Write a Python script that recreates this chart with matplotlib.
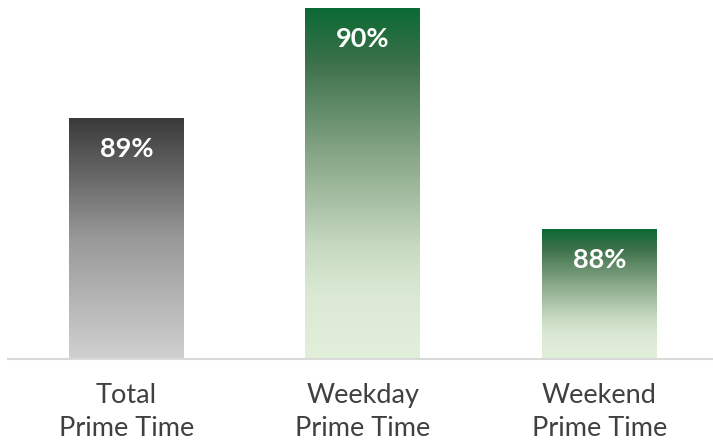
import numpy as np
import matplotlib
matplotlib.use('Agg')
import matplotlib.pyplot as plt
from matplotlib.colors import LinearSegmentedColormap

# chart data
categories = ['Total\nPrime Time', 'Weekday\nPrime Time', 'Weekend\nPrime Time']
values = [89, 90, 88]

# gradient stops (bottom -> top)
gray_stops = [(0.0, '#d1d0d1'), (0.5, '#9a9999'), (1.0, '#3b3a3a')]
green_stops = [(0.0, '#e2efdb'), (0.17, '#dcead5'), (0.31, '#c9dbc3'),
               (0.57, '#8aa88a'), (0.85, '#3a7048'), (1.0, '#0a6a34')]
bar_stops = [gray_stops, green_stops, green_stops]

plt.rcParams['font.family'] = ['Lato', 'DejaVu Sans']

fig = plt.figure(figsize=(7.13, 4.41), dpi=100)
ax = fig.add_axes([8 / 713, 82 / 441, 705 / 713, 359 / 441])

x = np.arange(len(categories))
bars = ax.bar(x, values, width=0.486, color='none', edgecolor='none', zorder=2)

ax.set_xlim(-0.5, 2.48)
ax.set_ylim(86.82, 90.07)

# gradient fill clipped to each bar
grad = np.linspace(0, 1, 256).reshape(-1, 1)
for bar, stops, v in zip(bars, bar_stops, values):
    x0, y0 = bar.get_x(), ax.get_ylim()[0]
    x1, y1 = x0 + bar.get_width(), bar.get_height()
    cmap = LinearSegmentedColormap.from_list('g', stops)
    im = ax.imshow(grad, cmap=cmap, extent=[x0, x1, y0, y1], origin='lower',
                   aspect='auto', zorder=1)
    im.set_clip_path(bar)
    ax.annotate(f'{v:.0f}%', xy=(bar.get_x() + bar.get_width() / 2, y1),
                xytext=(0, -31), textcoords='offset pixels',
                ha='center', va='center', color='white', fontsize=19.5,
                fontweight='bold', zorder=3)

ax.set_xticks(x)
ax.set_xticklabels(categories, fontsize=19.5, color='#404040', linespacing=1.4)
ax.tick_params(axis='x', length=0, pad=17)
ax.set_yticks([])
for side in ['top', 'right', 'left']:
    ax.spines[side].set_visible(False)
ax.spines['bottom'].set_color('#d9d9d9')
ax.spines['bottom'].set_linewidth(1.5)

fig.savefig('out.png', dpi=100)
